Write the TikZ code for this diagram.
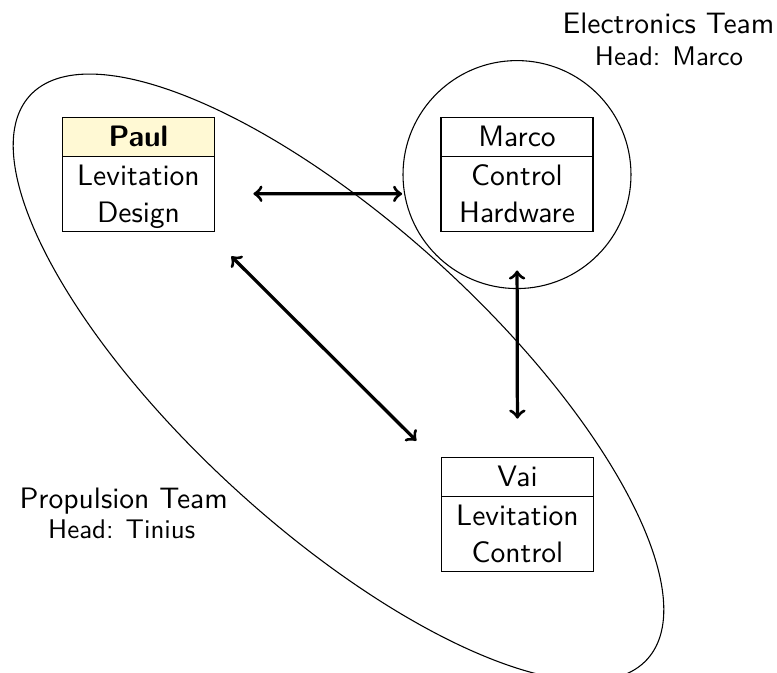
\documentclass[11pt,tikz,border=0pt]{standalone}
\usetikzlibrary{shapes.multipart,calc}
\definecolor{headfill}{RGB}{255,249,212}
\begin{document}
\begin{tikzpicture}[x=0.37037pt,y=-0.37037pt,
  every node/.style={font=\sffamily},
  person/.style={rectangle split, rectangle split parts=2, draw, text width=49pt, align=center, inner ysep=3.1pt},
  arr/.style={<->, very thick, shorten <=14.2pt, shorten >=14.2pt},
  teamlbl/.style={anchor=base},
  headlbl/.style={anchor=base, font=\sffamily\small}]
\useasboundingbox (0,0) rectangle (777,673);
\draw[rotate around={-42.4:(338.5,377.5)}] (338.5,377.5) ellipse [x radius=418, y radius=152];
\node[person, anchor=north, rectangle split part fill={headfill,white}] (paul) at (138.5,117) {\textbf{Paul}\nodepart{two}Levitation\\\smash{Design}};
\node[person, anchor=north] (marco) at (517,117) {Marco\nodepart{two}Control\\\smash{Hardware}};
\node[person, anchor=north] (vai) at (517.5,457) {Vai\nodepart{two}Levitation\\\smash{Control}};
\node[circle, draw, minimum size=84.44pt, inner sep=0pt] (elec) at (marco.center) {};
\draw[arr] (paul.two east) -- (marco.two west);
\draw[arr] (marco.south) -- (vai.north);
\draw[arr, shorten <=10.7pt, shorten >=10.7pt] ([xshift=-1.54pt,yshift=-1.54pt]paul.south east) -- ([xshift=-1.54pt,yshift=-1.54pt]vai.north west);
\node[teamlbl] (eteam) at (668.5,33.3) {Electronics Team};
\node[headlbl] (ehead) at (669,66) {Head: Marco};
\node[teamlbl] (pteam) at (123.7,508.3) {Propulsion Team};
\node[headlbl] (phead) at (121.7,539) {Head: Tinius};
\end{tikzpicture}
\end{document}
